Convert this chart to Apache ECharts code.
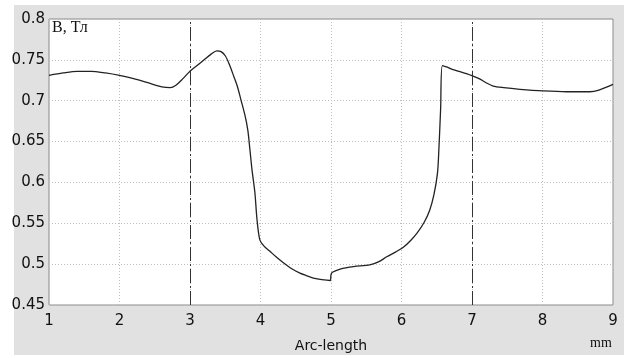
<!DOCTYPE html>
<html><head><meta charset="utf-8">
<script src="https://cdn.jsdelivr.net/npm/echarts@6/dist/echarts.min.js"></script>
<style>html,body{margin:0;padding:0;background:#fff}#c{width:624px;height:358px}</style>
</head><body><div id="c"></div>
<script>
var xVals = [1.0,1.2,1.4,1.6,1.8,2.0,2.2,2.4,2.6,2.72,2.8,2.9,3.0,3.1,3.2,3.3,3.38,3.44,3.5,3.56,3.62,3.67,3.72,3.78,3.82,3.85,3.88,3.92,3.95,3.99,4.05,4.13,4.22,4.32,4.45,4.56,4.65,4.75,4.87,4.99,5.0,5.02,5.13,5.32,5.55,5.68,5.79,5.92,6.03,6.13,6.22,6.32,6.40,6.46,6.51,6.53,6.555,6.58,6.65,6.73,6.85,6.99,7.1,7.2,7.3,7.45,7.68,8.01,8.34,8.67,8.8,9.0];
var bVals = [0.731,0.734,0.736,0.736,0.734,0.731,0.727,0.722,0.717,0.716,0.719,0.727,0.736,0.743,0.750,0.757,0.761,0.760,0.755,0.744,0.730,0.718,0.702,0.682,0.664,0.640,0.615,0.588,0.555,0.530,0.522,0.516,0.509,0.502,0.494,0.489,0.486,0.483,0.481,0.480,0.487,0.490,0.494,0.497,0.499,0.503,0.509,0.515,0.521,0.529,0.538,0.551,0.566,0.585,0.611,0.640,0.690,0.743,0.741,0.738,0.735,0.731,0.727,0.722,0.718,0.716,0.714,0.712,0.711,0.711,0.713,0.720];
var markerX = [3, 7];
var xTicks = [1,2,3,4,5,6,7,8,9];
var yTicks = [0.45,0.5,0.55,0.6,0.65,0.7,0.75,0.8];
var xAxisTitle = 'Arc-length';
var yAxisTitle = 'B, Тл';
var unitTitle = 'mm';

var chart = echarts.init(document.getElementById('c'));
var pts = xVals.map(function(x,i){return [x,bVals[i]];});
chart.setOption({
  animation:false,
  backgroundColor:'#fff',
  graphic:[
    {type:'rect',z:-10,shape:{x:14,y:5,width:610,height:350},style:{fill:'#e1e1e1'}},
    {type:'text',left:52,top:20,z:10,style:{text:yAxisTitle,font:'16px "Liberation Serif", serif',fill:'#111'}},
    {type:'text',left:590,top:336,z:10,style:{text:unitTitle,font:'14px "Liberation Serif", serif',fill:'#111'}}
  ],
  grid:{left:49,right:11,top:19,bottom:53,show:true,backgroundColor:'#fff',borderColor:'#8a8a8a',borderWidth:1},
  xAxis:{type:'value',min:xTicks[0],max:xTicks[xTicks.length-1],interval:1,
    name:xAxisTitle,nameLocation:'middle',nameGap:34,
    nameTextStyle:{fontFamily:'DejaVu Sans',fontSize:14,color:'#111'},
    axisLine:{show:false},axisTick:{show:false},
    axisLabel:{fontFamily:'DejaVu Sans',fontSize:15,color:'#111',margin:9},
    splitLine:{show:true,lineStyle:{color:'#bdbdbd',type:[1,2],width:1}}},
  yAxis:{type:'value',min:yTicks[0],max:yTicks[yTicks.length-1],interval:0.05,
    axisLine:{show:false},axisTick:{show:false},
    axisLabel:{fontFamily:'DejaVu Sans',fontSize:15,color:'#111',margin:4,padding:[4,0,0,0]},
    splitLine:{show:true,lineStyle:{color:'#bdbdbd',type:[1,2],width:1}}},
  series:[{type:'line',data:pts,showSymbol:false,smooth:0.3,
    lineStyle:{color:'#222',width:1.3},
    markLine:{silent:true,symbol:'none',label:{show:false},
      lineStyle:{color:'#333',type:[14,3,2,3],width:1},
      data:markerX.map(function(v){return {xAxis:v};})}}]
});
</script></body></html>
